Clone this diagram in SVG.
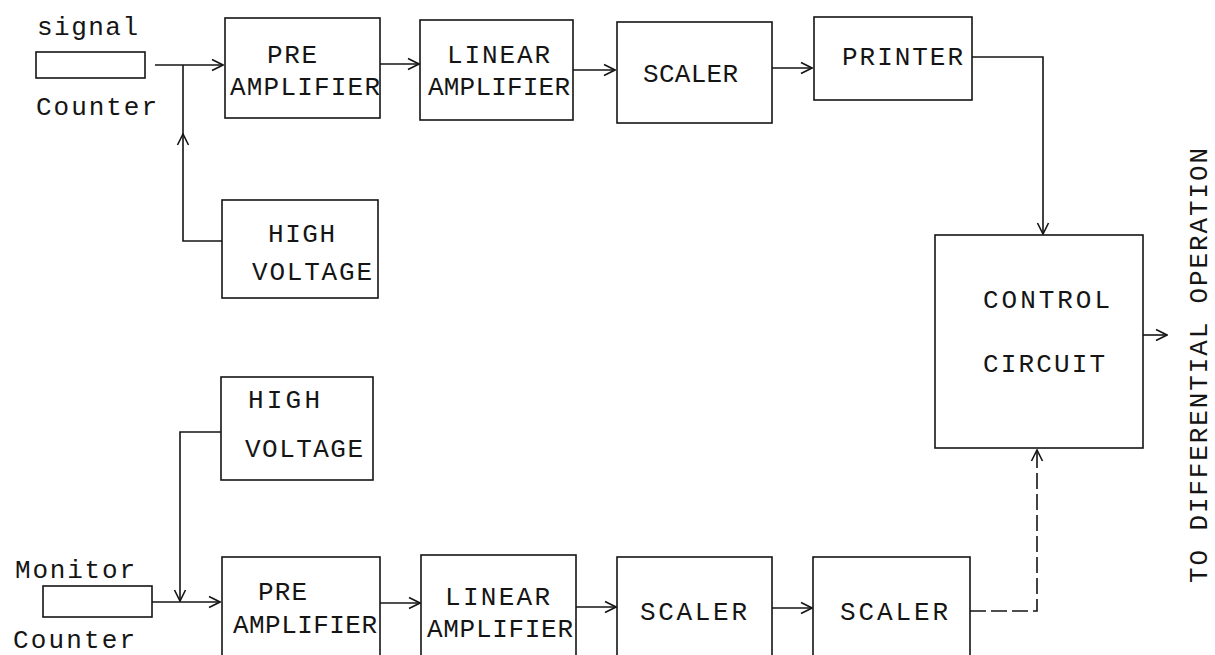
<svg xmlns="http://www.w3.org/2000/svg" width="1215" height="655" viewBox="0 0 1215 655">
<defs>
<style>
.box{fill:none;stroke:#151515;stroke-width:1.6}
.ln{fill:none;stroke:#151515;stroke-width:1.6}
.dash{stroke-dasharray:16 5}
.t{font-family:"Liberation Mono","DejaVu Sans Mono",monospace;font-size:26px;fill:#151515}
</style>
<marker id="ah" viewBox="0 0 14 14" refX="13" refY="7" markerWidth="14" markerHeight="14" markerUnits="userSpaceOnUse" orient="auto">
<path d="M2,1.5 L13,7 L2,12.5" fill="none" stroke="#151515" stroke-width="1.6"/>
</marker>
</defs>
<rect width="1215" height="655" fill="#ffffff"/>

<g id="signal-counter">
<text class="t" x="37" y="35" textLength="101" lengthAdjust="spacing">signal</text>
<rect class="box" x="36" y="52" width="109" height="26"/>
<text class="t" x="36" y="115" textLength="121" lengthAdjust="spacing">Counter</text>
</g>

<g id="pre-amp-top">
<rect class="box" x="225" y="18" width="155" height="100"/>
<text class="t" x="267" y="63" textLength="50" lengthAdjust="spacing">PRE</text>
<text class="t" x="230" y="95" textLength="150" lengthAdjust="spacing">AMPLIFIER</text>
</g>

<g id="high-voltage-top">
<rect class="box" x="222" y="200" width="156" height="98"/>
<text class="t" x="268" y="242" textLength="67" lengthAdjust="spacing">HIGH</text>
<text class="t" x="252" y="280" textLength="120" lengthAdjust="spacing">VOLTAGE</text>
</g>

<g id="linear-amp-top">
<rect class="box" x="420" y="20" width="153" height="100"/>
<text class="t" x="447" y="63" textLength="103" lengthAdjust="spacing">LINEAR</text>
<text class="t" x="428" y="95" textLength="142" lengthAdjust="spacing">AMPLIFIER</text>
</g>

<g id="scaler-top">
<rect class="box" x="617" y="22" width="155" height="101"/>
<text class="t" x="643" y="82" textLength="95" lengthAdjust="spacing">SCALER</text>
</g>

<g id="printer">
<rect class="box" x="814" y="17" width="158" height="83"/>
<text class="t" x="842" y="65" textLength="121" lengthAdjust="spacing">PRINTER</text>
</g>

<g id="control-circuit">
<rect class="box" x="935" y="235" width="208" height="213"/>
<text class="t" x="983" y="308" textLength="127" lengthAdjust="spacing">CONTROL</text>
<text class="t" x="983" y="372" textLength="122" lengthAdjust="spacing">CIRCUIT</text>
</g>

<g id="output-label">
<text class="t" transform="translate(1207,583) rotate(-90)" x="0" y="0" textLength="435" lengthAdjust="spacing">TO DIFFERENTIAL OPERATION</text>
</g>

<g id="high-voltage-bottom">
<rect class="box" x="221" y="377" width="152" height="103"/>
<text class="t" x="248" y="408" textLength="72" lengthAdjust="spacing">HIGH</text>
<text class="t" x="245" y="457" textLength="118" lengthAdjust="spacing">VOLTAGE</text>
</g>

<g id="monitor-counter">
<text class="t" x="15" y="578" textLength="120" lengthAdjust="spacing">Monitor</text>
<rect class="box" x="43" y="586" width="109" height="31"/>
<text class="t" x="13" y="648" textLength="122" lengthAdjust="spacing">Counter</text>
</g>

<g id="pre-amp-bottom">
<rect class="box" x="222" y="557" width="158" height="115"/>
<text class="t" x="258" y="600" textLength="49" lengthAdjust="spacing">PRE</text>
<text class="t" x="233" y="633" textLength="144" lengthAdjust="spacing">AMPLIFIER</text>
</g>

<g id="linear-amp-bottom">
<rect class="box" x="421" y="555" width="155" height="117"/>
<text class="t" x="445" y="605" textLength="105" lengthAdjust="spacing">LINEAR</text>
<text class="t" x="427" y="637" textLength="146" lengthAdjust="spacing">AMPLIFIER</text>
</g>

<g id="scaler-bottom-1">
<rect class="box" x="617" y="557" width="155" height="115"/>
<text class="t" x="640" y="620" textLength="107" lengthAdjust="spacing">SCALER</text>
</g>

<g id="scaler-bottom-2">
<rect class="box" x="813" y="557" width="157" height="115"/>
<text class="t" x="840" y="620" textLength="108" lengthAdjust="spacing">SCALER</text>
</g>

<g id="connectors">
<line class="ln" x1="155" y1="65" x2="223" y2="65" marker-end="url(#ah)"/>
<path class="ln" d="M222,241 H183 V134" marker-end="url(#ah)"/>
<line class="ln" x1="183" y1="134" x2="183" y2="65"/>
<line class="ln" x1="380" y1="64" x2="419" y2="64" marker-end="url(#ah)"/>
<line class="ln" x1="573" y1="70" x2="615" y2="70" marker-end="url(#ah)"/>
<line class="ln" x1="772" y1="68" x2="812" y2="68" marker-end="url(#ah)"/>
<path class="ln" d="M972,57 H1043 V234" marker-end="url(#ah)"/>
<line class="ln" x1="1143" y1="335" x2="1167" y2="335" marker-end="url(#ah)"/>
<path class="ln" d="M221,432 H180 V601" marker-end="url(#ah)"/>
<line class="ln" x1="152" y1="602" x2="220" y2="602" marker-end="url(#ah)"/>
<line class="ln" x1="380" y1="603" x2="420" y2="603" marker-end="url(#ah)"/>
<line class="ln" x1="576" y1="607" x2="616" y2="607" marker-end="url(#ah)"/>
<line class="ln" x1="772" y1="608" x2="812" y2="608" marker-end="url(#ah)"/>
<path class="ln dash" d="M970,611 H1037 V450" marker-end="url(#ah)"/>
</g>
</svg>
